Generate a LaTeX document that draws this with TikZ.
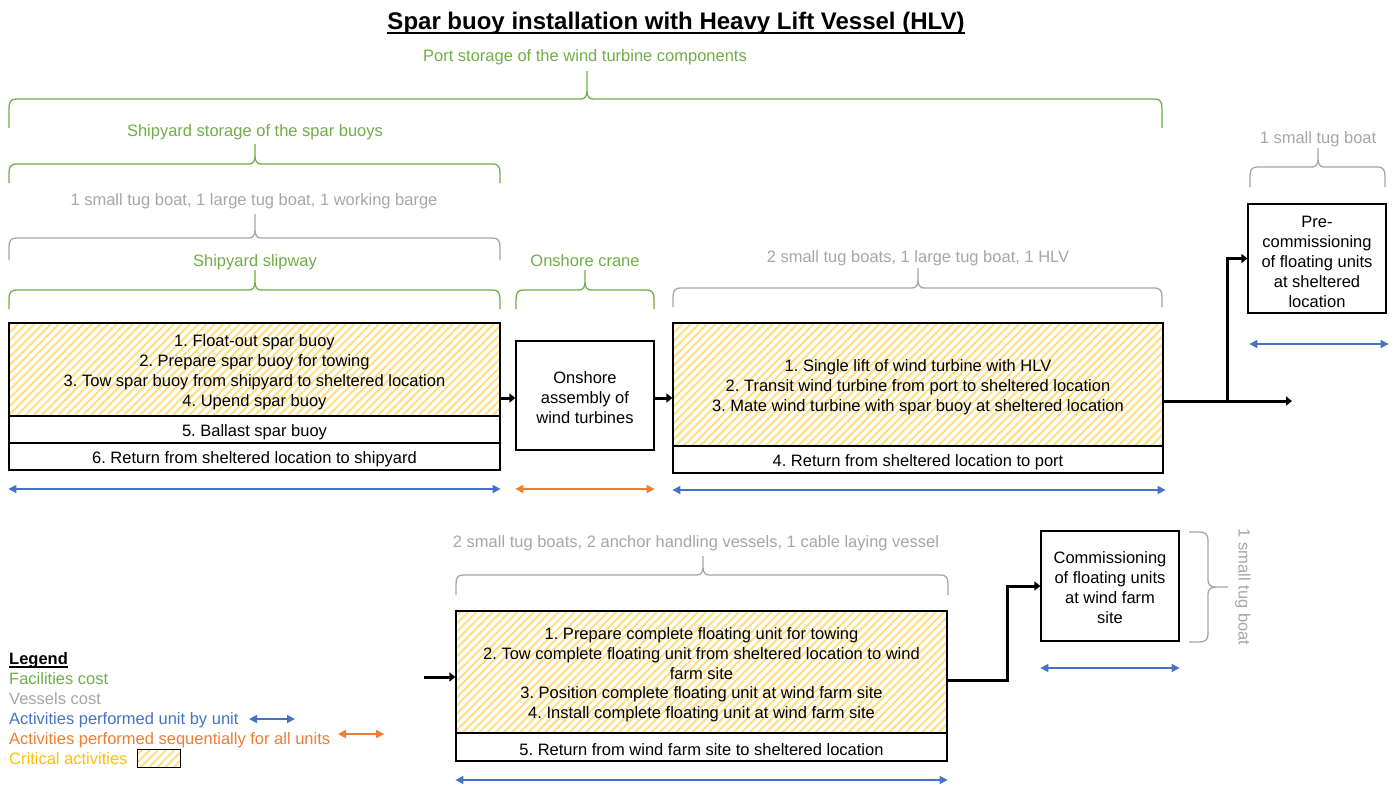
\documentclass[tikz,border=0pt]{standalone}
\usepackage{fontspec}
\setmainfont{Liberation Sans}
\usetikzlibrary{arrows.meta,patterns.meta}
\frenchspacing

\definecolor{facgreen}{RGB}{112,173,71}
\definecolor{vesgrey}{RGB}{166,166,166}
\definecolor{unitblue}{RGB}{68,114,196}
\definecolor{seqorange}{RGB}{237,125,49}
\definecolor{crityellow}{RGB}{255,192,0}
\definecolor{hatchyellow}{RGB}{255,222,125}

% strut that lowers box texts a little inside their frames
\newcommand{\boxstrut}{\rule{0pt}{18pt}}

% horizontal curly brace opening downwards: style, x1, x2, xm, y of bar, y of tip, y of ends
\newcommand{\topbrace}[7]{%
  \draw[#1] (#2,#7) -- (#2,#5+9) .. controls (#2,#5+3) and (#2+2,#5) .. (#2+7,#5)
    -- (#4-6,#5) .. controls (#4-2,#5) and (#4,#5-3) .. (#4,#5-8) -- (#4,#6)
    (#4,#5-8) .. controls (#4,#5-3) and (#4+2,#5) .. (#4+6,#5)
    -- (#3-7,#5) .. controls (#3-2,#5) and (#3,#5+3) .. (#3,#5+9) -- (#3,#7);}

\begin{document}
\begin{tikzpicture}[x=1pt,y=-1pt,
  txt/.style={font=\fontsize{16.5}{20}\selectfont},
  lbl/.style={txt, inner sep=0pt, anchor=base},
  facility/.style={lbl, text=facgreen},
  vessel/.style={lbl, text=vesgrey},
  hatched/.style={pattern={Lines[angle=45,distance=5.8pt,line width=2pt]}, pattern color=hatchyellow},
  critbox/.style={txt, draw, line width=1.2pt, align=center, inner sep=0pt, hatched},
  plainbox/.style={txt, draw, line width=1.2pt, align=center, inner sep=0pt},
  rowbox/.style={plainbox, execute at begin node=\boxstrut},
  facbrace/.style={draw=facgreen, line width=1.3pt},
  vesbrace/.style={draw=vesgrey, line width=1.3pt},
  flow/.style={line width=3pt, -{Triangle[length=6pt,width=9pt]}},
  unitspan/.style={draw=unitblue, line width=1.6pt,
    {Triangle[length=8pt,width=8pt]}-{Triangle[length=8pt,width=8pt]}},
  seqspan/.style={unitspan, draw=seqorange},
  legtext/.style={lbl, anchor=base west}]

\useasboundingbox (0,0) rectangle (1398,785);

% title
\node[inner sep=0pt, anchor=base, font=\fontsize{24}{28}\selectfont\bfseries] (title) at (676,29.5)
  {Spar buoy installation with Heavy Lift Vessel (HLV)};
\draw[line width=2pt] ([yshift=-3pt]title.base west) -- ([yshift=-3pt]title.base east);

% facility and vessel labels with their braces
\node[facility] (portlbl) at (585,61) {Port storage of the wind turbine components};
\topbrace{facbrace}{9}{1162}{587}{99}{71}{128}
\node[facility] (yardlbl) at (255,136) {Shipyard storage of the spar buoys};
\topbrace{facbrace}{9}{500}{255}{164}{144}{183}
\node[vessel] (v1lbl) at (254,205) {1 small tug boat, 1 large tug boat, 1 working barge};
\topbrace{vesbrace}{9}{500}{255}{238}{214}{260}
\node[facility] (sliplbl) at (255,266) {Shipyard slipway};
\topbrace{facbrace}{9}{500}{255}{290}{270}{309}
\node[facility] (cranelbl) at (585,266) {Onshore crane};
\topbrace{facbrace}{516}{654}{585}{290}{270}{309}
\node[vessel] (v2lbl) at (918,262) {2 small tug boats, 1 large tug boat, 1 HLV};
\topbrace{vesbrace}{673}{1162}{918}{288}{268}{307}
\node[vessel] (v3lbl) at (1318,143) {1 small tug boat};
\topbrace{vesbrace}{1250}{1385}{1318}{167}{148}{187}
\node[vessel] (v4lbl) at (696,547) {2 small tug boats, 2 anchor handling vessels, 1 cable laying vessel};
\topbrace{vesbrace}{456}{948}{703}{575}{556}{595}

% vertical brace beside the commissioning box
\draw[vesbrace] (1189,532) -- (1199,532) .. controls (1205,532) and (1208,534) .. (1208,540)
  -- (1208,580) .. controls (1208,585) and (1211,587) .. (1216,587) -- (1228,587)
  (1216,587) .. controls (1211,587) and (1208,589) .. (1208,594)
  -- (1208,634) .. controls (1208,640) and (1205,642) .. (1199,642) -- (1189,642);
\node[txt, text=vesgrey, inner sep=0pt, rotate=-90] (v5lbl) at (1243,587) {1 small tug boat};

% spar buoy activities
\node[critbox, minimum width=491pt, minimum height=93pt] (a1) at (254.5,369.5)
  {\boxstrut 1. Float-out spar buoy\\2. Prepare spar buoy for towing\\3. Tow spar buoy from shipyard to sheltered location\\4. Upend spar buoy};
\node[rowbox, minimum width=491pt, minimum height=27pt] (a5) at (254.5,429.5) {5. Ballast spar buoy};
\node[rowbox, minimum width=491pt, minimum height=27pt] (a6) at (254.5,456.5) {6. Return from sheltered location to shipyard};

% onshore assembly
\node[plainbox, minimum width=138pt, minimum height=109pt] (b) at (585,395.5)
  {\rule{0pt}{16pt}Onshore\\assembly of\\wind turbines};

% HLV activities
\node[critbox, minimum width=490pt, minimum height=123pt] (c1) at (918,384.5)
  {\boxstrut 1. Single lift of wind turbine with HLV\\2. Transit wind turbine from port to sheltered location\\3. Mate wind turbine with spar buoy at sheltered location};
\node[rowbox, minimum width=490pt, minimum height=27pt] (c4) at (918,459.5) {4. Return from sheltered location to port};

% pre-commissioning
\node[plainbox, minimum width=138pt, minimum height=109pt] (d) at (1317,258.5)
  {\boxstrut Pre-\\commissioning\\of floating units\\at sheltered\\location};

% tow-out and installation
\node[critbox, minimum width=491pt, minimum height=122pt, font=\fontsize{16.5}{19.7}\selectfont] (e1) at (701.5,672)
  {\boxstrut 1. Prepare complete floating unit for towing\\2. Tow complete floating unit from sheltered location to wind\\farm site\\3. Position complete floating unit at wind farm site\\4. Install complete floating unit at wind farm site};
\node[rowbox, minimum width=491pt, minimum height=28pt] (e5) at (701.5,747) {5. Return from wind farm site to sheltered location};

% commissioning
\node[plainbox, minimum width=138pt, minimum height=110pt] (f) at (1110,586)
  {\rule{0pt}{16pt}Commissioning\\of floating units\\at wind farm\\site};

% sequence connectors
\coordinate (flowrow) at (0,398);
\coordinate (split) at (1227,401);
\coordinate (cend) at (1292,401);
\coordinate (ein) at (424,677);
\coordinate (ebend) at (1007,680);
\draw[flow] (a1.east |- flowrow) -- (b.west |- flowrow);
\draw[flow] (b.east |- flowrow) -- (c1.west |- flowrow);
\draw[flow] (c1.east |- split) -- (cend);
\draw[flow, line join=miter] (split) |- (d.west);
\draw[flow] (ein) -- (ein -| e1.west);
\draw[flow, line join=miter] (e1.east |- ebend) -- (ebend) |- (f.west);

% activity spans
\draw[unitspan] (a6.south west |- 0,489) -- (a6.south east |- 0,489);
\draw[seqspan] (b.south west |- 0,489) -- (b.south east |- 0,489);
\draw[unitspan] (c4.south west |- 0,490) -- ([xshift=2pt]c4.south east |- 0,490);
\draw[unitspan] ([xshift=2pt]d.south west |- 0,344) -- ([xshift=2pt]d.south east |- 0,344);
\draw[unitspan] (f.south west |- 0,668) -- (f.south east |- 0,668);
\draw[unitspan] (e5.south west |- 0,780) -- (e5.south east |- 0,780);

% legend
\node[legtext, font=\fontsize{16.5}{20}\selectfont\bfseries] (legend) at (9,664) {Legend};
\draw[line width=1.3pt] ([yshift=-3pt]legend.base west) -- ([yshift=-3pt]legend.base east);
\node[legtext, text=facgreen] (lfac) at (9,684) {Facilities cost};
\node[legtext, text=vesgrey] (lves) at (9,704) {Vessels cost};
\node[legtext, text=unitblue] (lunit) at (9,724) {Activities performed unit by unit};
\node[legtext, text=seqorange] (lseq) at (9,744) {Activities performed sequentially for all units};
\node[legtext, text=crityellow] (lcrit) at (9,764) {Critical activities};
\coordinate (lu1) at (249,719);
\coordinate (lu2) at (295,719);
\coordinate (ls1) at (338,734);
\coordinate (ls2) at (384,734);
\draw[unitspan] (lu1) -- (lu2);
\draw[seqspan] (ls1) -- (ls2);
\node[draw, line width=1pt, minimum width=43pt, minimum height=18pt, inner sep=0pt, hatched] (lbox) at (158.5,758) {};

\end{tikzpicture}
\end{document}
